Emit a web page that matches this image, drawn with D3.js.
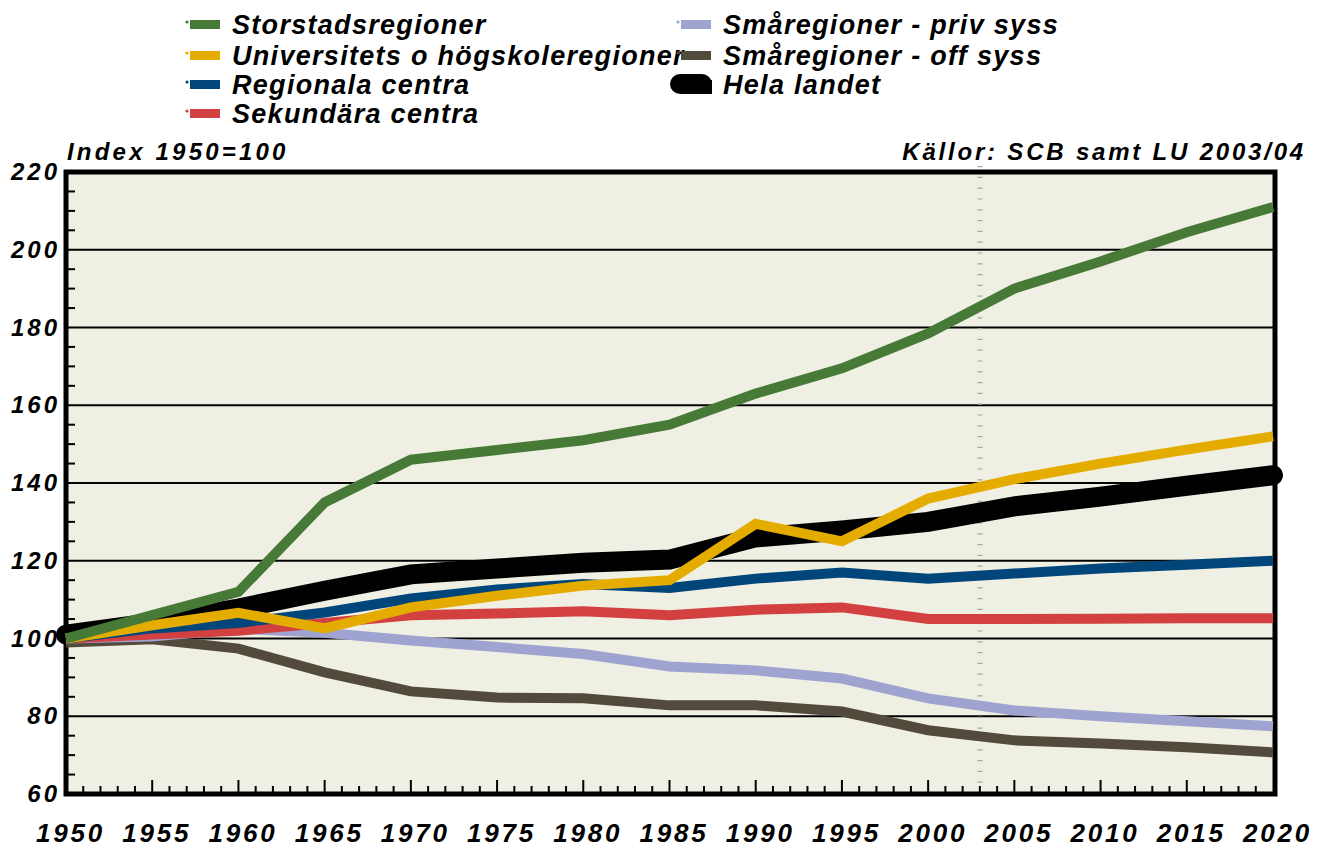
<!DOCTYPE html>
<html>
<head>
<meta charset="utf-8">
<script src="https://cdn.jsdelivr.net/npm/d3@7"></script>
<style>
  body { margin: 0; background: #fff; }
  svg text { font-family: "Liberation Sans", Arial, sans-serif; font-weight: bold; font-style: italic; fill: #000; }
</style>
</head>
<body>
<svg id="chart" width="1317" height="848"></svg>
<script>
// years on the x axis
const years = [1950, 1955, 1960, 1965, 1970, 1975, 1980, 1985, 1990, 1995, 2000, 2005, 2010, 2015, 2020];

// index values, 1950 = 100
const storstad   = [100, 106, 112, 135, 146, 148.5, 151, 155, 163, 169.5, 178.5, 190, 197, 204.5, 211];
const universitet = [100, 103.4, 106.6, 102.6, 108, 111, 113.6, 115, 129.5, 125, 136, 141, 145, 148.6, 152];
const regionala  = [100, 102.6, 104, 106.7, 110.3, 112.6, 114, 113, 115.4, 117, 115.4, 116.7, 118, 119, 120];
const sekundara  = [100, 101, 102, 104, 106, 106.4, 107, 106, 107.4, 108, 105, 105, 105.1, 105.2, 105.2];
const smaPriv    = [100, 100.5, 102.5, 101.5, 99.5, 97.8, 96, 92.8, 91.8, 89.7, 84.6, 81.5, 80, 78.7, 77.4];
const smaOff     = [99, 99.8, 97.4, 91.3, 86.4, 84.8, 84.6, 82.8, 82.8, 81.2, 76.4, 73.8, 73, 72, 70.7];
const helaLandet = [101, 104, 107.7, 112.3, 116.5, 118, 119.5, 120.3, 126, 127.8, 130, 134, 136.5, 139.3, 142];

const seriesNames = ["Storstadsregioner", "Universitets o högskoleregioner", "Regionala centra",
  "Sekundära centra", "Småregioner - priv syss", "Småregioner - off syss", "Hela landet"];
const seriesColors = ["#467a36", "#e5ac00", "#00467a", "#d24040", "#9fa3d0", "#524a3c", "#000000"];
const seriesValues = [storstad, universitet, regionala, sekundara, smaPriv, smaOff, helaLandet];

const yTicks = [60, 80, 100, 120, 140, 160, 180, 200, 220];

const svg = d3.select("#chart");
const plotLeft = 66, plotRight = 1273, plotTop = 172, plotBottom = 794;

const x = d3.scaleLinear().domain([1950, 2020]).range([plotLeft, plotRight]);
const y = d3.scaleLinear().domain([60, 220]).range([plotBottom, plotTop]);

// plot background
svg.append("rect")
  .attr("x", plotLeft).attr("y", plotTop)
  .attr("width", plotRight - plotLeft).attr("height", plotBottom - plotTop)
  .attr("fill", "#efefe3");

// horizontal gridlines
svg.append("g").selectAll("line")
  .data(yTicks.filter(d => d > 60 && d < 220))
  .join("line")
  .attr("x1", plotLeft).attr("x2", plotRight)
  .attr("y1", d => y(d)).attr("y2", d => y(d))
  .attr("stroke", "#000").attr("stroke-width", 2);

// minor y ticks every 5
svg.append("g").selectAll("line")
  .data(d3.range(65, 220, 5).filter(d => d % 20 !== 0))
  .join("line")
  .attr("x1", plotLeft).attr("x2", plotLeft + 9)
  .attr("y1", d => y(d)).attr("y2", d => y(d))
  .attr("stroke", "#000").attr("stroke-width", 2);

// x ticks every year, taller every 5 years
svg.append("g").selectAll("line")
  .data(d3.range(1951, 2020))
  .join("line")
  .attr("x1", d => x(d)).attr("x2", d => x(d))
  .attr("y1", plotBottom).attr("y2", d => plotBottom - (d % 5 === 0 ? 14 : 8))
  .attr("stroke", "#000").attr("stroke-width", 2);

// dashed marker line at 2003
svg.append("line")
  .attr("x1", x(2003)).attr("x2", x(2003))
  .attr("y1", plotTop - 6).attr("y2", plotBottom)
  .attr("stroke", "#a8a8a0").attr("stroke-width", 5)
  .attr("stroke-dasharray", "1.2 9.6");

// frame
svg.append("rect")
  .attr("x", plotLeft).attr("y", plotTop)
  .attr("width", plotRight - plotLeft + 2).attr("height", plotBottom - plotTop)
  .attr("fill", "none").attr("stroke", "#000").attr("stroke-width", 5);

// series lines, last legend entry drawn first
const line = d3.line().x((d, i) => x(years[i])).y(d => y(d));
const order = [6, 5, 4, 3, 2, 1, 0];
svg.append("g").selectAll("path")
  .data(order)
  .join("path")
  .attr("d", k => line(seriesValues[k]))
  .attr("fill", "none")
  .attr("stroke", k => seriesColors[k])
  .attr("stroke-width", k => k === 6 ? 20 : 10)
  .attr("stroke-linejoin", "miter")
  .attr("stroke-linecap", k => k === 6 ? "round" : "butt");

// y axis labels
const yAxis = d3.axisLeft(y).tickValues(yTicks).tickSize(0).tickPadding(6);
const gy = svg.append("g").attr("transform", `translate(${plotLeft},0)`).call(yAxis);
gy.select(".domain").remove();
gy.selectAll("text")
  .attr("font-size", 24).attr("letter-spacing", 3)
  .attr("font-family", null).attr("dx", 0);

// x axis labels
const xAxis = d3.axisBottom(x).tickValues(years).tickFormat(d3.format("d")).tickSize(0).tickPadding(0);
const gx = svg.append("g").attr("transform", `translate(0,${plotBottom})`).call(xAxis);
gx.select(".domain").remove();
gx.selectAll("text")
  .attr("font-size", 26).attr("letter-spacing", 2.8)
  .attr("font-family", null).attr("y", 48).attr("dy", 0).attr("dx", 4);

// captions
svg.append("text").attr("x", 67).attr("y", 160)
  .attr("font-size", 24).attr("letter-spacing", 3.2)
  .text("Index 1950=100");
svg.append("text").attr("x", 1306).attr("y", 160)
  .attr("text-anchor", "end")
  .attr("font-size", 24).attr("letter-spacing", 2.8)
  .text("Källor: SCB samt LU 2003/04");

// legend: two columns, filled column-wise
const legendPos = [[189, 24], [189, 55], [189, 84], [189, 113], [680, 24], [680, 55], [680, 84]];
const legend = svg.append("g").selectAll("g")
  .data(seriesNames)
  .join("g")
  .attr("transform", (d, i) => `translate(${legendPos[i][0]},${legendPos[i][1]})`);

legend.each(function(d, i) {
  const g = d3.select(this);
  if (i === 6) {
    g.append("line")
      .attr("x1", 0).attr("x2", 22).attr("y1", 0).attr("y2", 0)
      .attr("stroke", "#000").attr("stroke-width", 20).attr("stroke-linecap", "round");
    g.append("rect").attr("x", 8).attr("y", -4).attr("width", 24).attr("height", 14).attr("fill", "#000");
  } else {
    g.append("circle").attr("cx", -2).attr("cy", -2).attr("r", 1.6).attr("fill", seriesColors[i]);
    g.append("rect").attr("x", 1).attr("y", -4).attr("width", 30).attr("height", 9).attr("fill", seriesColors[i]);
  }
  g.append("text")
    .attr("x", 43).attr("y", 10)
    .attr("font-size", 27).attr("letter-spacing", 1.3)
    .text(d);
});
</script>
</body>
</html>
